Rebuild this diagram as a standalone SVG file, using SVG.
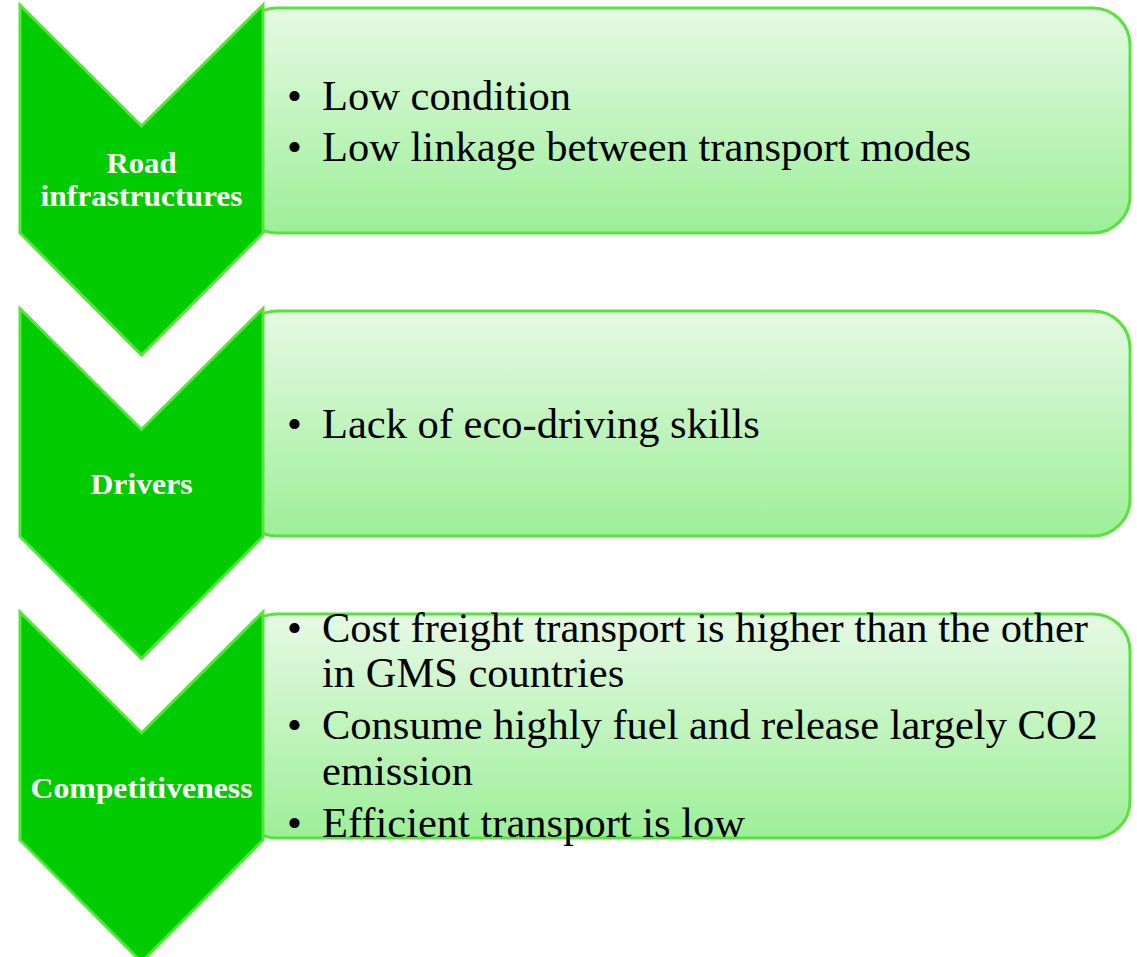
<svg xmlns="http://www.w3.org/2000/svg" width="1137" height="957" viewBox="0 0 1137 957">
<defs>
<linearGradient id="boxGrad" x1="0" y1="0" x2="0" y2="1">
<stop offset="0" stop-color="#e6f9e4"/>
<stop offset="1" stop-color="#9cef98"/>
</linearGradient>
<style>
.box{fill:url(#boxGrad);stroke:#55e53a;stroke-width:3}
.chev{fill:#00cc00;stroke:#55e53a;stroke-width:3;stroke-linejoin:miter}
.lbl{font-family:"Liberation Serif","Times New Roman",serif;font-weight:bold;font-size:29px;fill:#ffffff;text-anchor:middle}
.txt{font-family:"Liberation Serif","Times New Roman",serif;font-size:42.5px;fill:#000000}
</style>
</defs>
<rect width="1137" height="957" fill="#ffffff"/>
<g id="box1">
<rect class="box" x="240" y="8" width="890" height="225" rx="37" ry="37"/>
<text class="txt" x="287" y="109.5">•</text>
<text class="txt" x="322" y="109.5">Low condition</text>
<text class="txt" x="287" y="160.5">•</text>
<text class="txt" x="322" y="160.5">Low linkage between transport modes</text>
</g>
<g id="box2">
<rect class="box" x="240" y="311" width="890" height="225" rx="37" ry="37"/>
<text class="txt" x="287" y="438">•</text>
<text class="txt" x="322" y="438">Lack of eco-driving skills</text>
</g>
<g id="box3">
<rect class="box" x="240" y="614" width="890" height="224" rx="37" ry="37"/>
<text class="txt" x="287" y="641.5">•</text>
<text class="txt" x="322" y="641.5">Cost freight transport is higher than the other</text>
<text class="txt" x="322" y="687">in GMS countries</text>
<text class="txt" x="287" y="739">•</text>
<text class="txt" x="322" y="739">Consume highly fuel and release largely CO2</text>
<text class="txt" x="322" y="784.5">emission</text>
<text class="txt" x="287" y="836.5">•</text>
<text class="txt" x="322" y="836.5">Efficient transport is low</text>
</g>
<g id="chevron1">
<polygon class="chev" points="20,5 141.5,126 263,5 263,233 141.5,355 20,233"/>
<text class="lbl" x="141.5" y="172.5" textLength="70" lengthAdjust="spacingAndGlyphs">Road</text>
<text class="lbl" x="141.5" y="206" textLength="202" lengthAdjust="spacingAndGlyphs">infrastructures</text>
</g>
<g id="chevron2">
<polygon class="chev" points="20,308.5 141.5,429.5 263,308.5 263,536.5 141.5,658.5 20,536.5"/>
<text class="lbl" x="141.5" y="494" textLength="102" lengthAdjust="spacingAndGlyphs">Drivers</text>
</g>
<g id="chevron3">
<polygon class="chev" points="20,612 141.5,733 263,612 263,840 141.5,962 20,840"/>
<text class="lbl" x="141.5" y="798" textLength="222" lengthAdjust="spacingAndGlyphs">Competitiveness</text>
</g>
<g id="connectors"/>
</svg>
